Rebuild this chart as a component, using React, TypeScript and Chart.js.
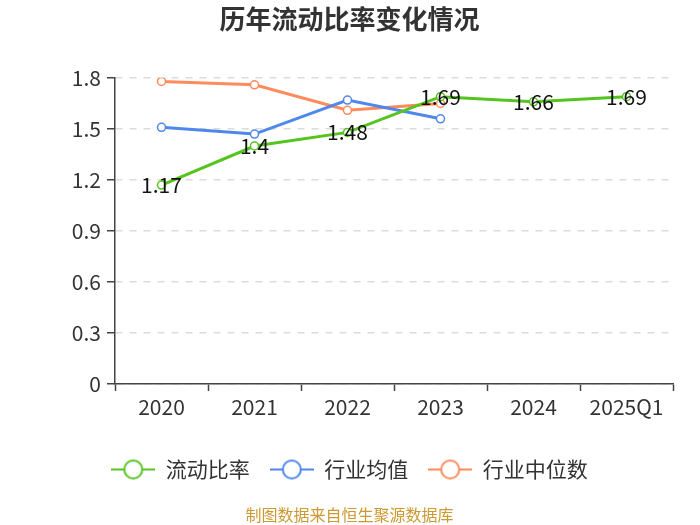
import { useEffect, useRef } from 'react'
import { Chart, registerables } from 'chart.js'

Chart.register(...registerables)

const years = ['2020', '2021', '2022', '2023', '2024', '2025Q1']
const currentRatio = [1.17, 1.4, 1.48, 1.69, 1.66, 1.69]
const industryMean = [1.51, 1.47, 1.67, 1.56, null, null]
const industryMedian = [1.78, 1.76, 1.61, 1.65, null, null]

const GREEN = '#55c41f'
const BLUE = '#4f87ea'
const ORANGE = '#ff8b5c'
const FONT = "'Noto Sans CJK SC', 'Noto Sans', sans-serif"

function legendIcon(color: string) {
  const c = document.createElement('canvas')
  c.width = 44
  c.height = 22
  const ctx = c.getContext('2d')!
  ctx.strokeStyle = color
  ctx.lineWidth = 2
  ctx.beginPath()
  ctx.moveTo(0, 11)
  ctx.lineTo(44, 11)
  ctx.stroke()
  ctx.beginPath()
  ctx.arc(22, 11, 9, 0, Math.PI * 2)
  ctx.fillStyle = '#fff'
  ctx.fill()
  ctx.stroke()
  return c
}

// prints the values of the first series centred on its points
const valueLabels = {
  id: 'valueLabels',
  afterDatasetsDraw(chart: Chart) {
    const ctx = chart.ctx
    const meta = chart.getDatasetMeta(0)
    ctx.save()
    ctx.font = `21px ${FONT}`
    ctx.fillStyle = '#111'
    ctx.textAlign = 'center'
    ctx.textBaseline = 'middle'
    meta.data.forEach((pt, i) => {
      ctx.fillText(String(currentRatio[i]), pt.x, pt.y)
    })
    ctx.restore()
  },
}

export default function App() {
  const canvasRef = useRef<HTMLCanvasElement>(null)

  useEffect(() => {
    if (!canvasRef.current) return
    const icons = [legendIcon(GREEN), legendIcon(BLUE), legendIcon(ORANGE)]
    const line = (label: string, data: (number | null)[], color: string) => ({
      label,
      data,
      borderColor: color,
      backgroundColor: '#fff',
      borderWidth: 3,
      pointRadius: 4,
      pointBorderWidth: 1.5,
      pointBackgroundColor: '#fff',
      pointBorderColor: color,
      tension: 0,
    })
    const chart = new Chart(canvasRef.current, {
      type: 'line',
      data: {
        labels: years,
        datasets: [
          line('流动比率', currentRatio, GREEN),
          line('行业均值', industryMean, BLUE),
          line('行业中位数', industryMedian, ORANGE),
        ],
      },
      options: {
        responsive: false,
        animation: false,
        font: { family: FONT },
        layout: { padding: { left: 26, right: 27, top: 0, bottom: 0 } },
        scales: {
          x: {
            offset: true,
            grid: {
              offset: true,
              drawOnChartArea: false,
              tickLength: 7,
              tickColor: '#444',
              tickWidth: 1.5,
            },
            border: { color: '#444', width: 1.5 },
            ticks: { color: '#333', font: { size: 21, family: FONT }, padding: 3 },
            afterFit: (s: any) => {
              s.height = 55
            },
          },
          y: {
            min: 0,
            max: 1.8,
            ticks: {
              stepSize: 0.3,
              color: '#333',
              padding: 6,
              font: { size: 21, family: FONT },
              callback: (v: any) => String(Number(Number(v).toFixed(1))),
            },
            grid: {
              color: '#dcdcdc',
              lineWidth: 1.5,
              tickLength: 8,
              tickColor: '#444',
              tickWidth: 1.5,
              tickBorderDash: [],
            },
            border: { color: '#444', width: 1.5, dash: [7, 7] },
            afterFit: (s: any) => {
              s.width = 89
            },
          },
        },
        plugins: {
          tooltip: { enabled: false },
          title: {
            display: true,
            text: '历年流动比率变化情况',
            color: '#333',
            font: { size: 26, weight: 'bold', family: FONT },
            padding: { top: 3.4, bottom: 43.4 },
          },
          legend: {
            position: 'bottom',
            labels: {
              usePointStyle: true,
              pointStyleWidth: 44,
              padding: 20,
              color: '#333',
              font: { size: 21, family: FONT },
              generateLabels: (c: Chart) =>
                Chart.defaults.plugins.legend.labels
                  .generateLabels(c)
                  .map((item, i) => ({ ...item, pointStyle: icons[i] })),
            },
          },
          subtitle: {
            display: true,
            position: 'bottom',
            text: '制图数据来自恒生聚源数据库',
            color: '#cc9933',
            font: { size: 16, family: FONT },
            padding: { top: 15.4, bottom: 0.4 },
          },
        },
      },
      plugins: [valueLabels],
    } as any)
    return () => chart.destroy()
  }, [])

  return (
    <canvas
      ref={canvasRef}
      width={700}
      height={525}
      style={{ position: 'absolute', left: 0, top: 0 }}
    />
  )
}
